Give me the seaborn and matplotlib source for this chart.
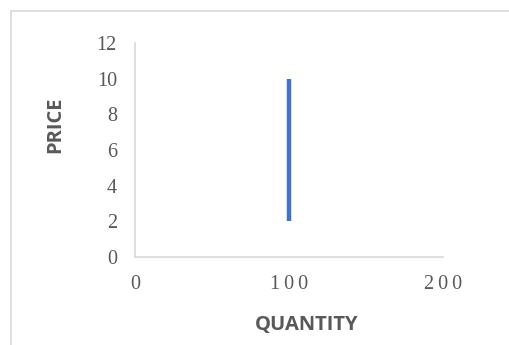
import seaborn as sns
import matplotlib.pyplot as plt
from matplotlib.patches import Rectangle

# supply curve: perfectly inelastic at quantity 100
quantity = [100, 100]
price = [2, 10]

x_ticks = [0, 100, 200]
y_ticks = [0, 2, 4, 6, 8, 10, 12]

sns.set_style("white")
plt.rcParams["font.family"] = ["Liberation Serif", "DejaVu Serif"]

fig = plt.figure(figsize=(5.09, 3.45), dpi=100)
ax = fig.add_axes([135 / 509, 1 - 257 / 345, 308 / 509, 214 / 345])

sns.lineplot(x=quantity, y=price, estimator=None, sort=False,
             color="#4472C4", linewidth=3.2, solid_capstyle="butt", ax=ax)

ax.set_xlim(0, 200)
ax.set_ylim(0, 12)
ax.set_xticks(x_ticks)
ax.set_yticks(y_ticks)
ax.set_xticklabels(["\u2009".join(str(t)) for t in x_ticks])
ax.tick_params(axis="both", length=0, labelsize=14.5, colors="#595959")
ax.tick_params(axis="x", pad=13)
ax.tick_params(axis="y", pad=13)

for side in ["top", "right"]:
    ax.spines[side].set_visible(False)
for side in ["left", "bottom"]:
    ax.spines[side].set_color("#D9D9D9")
    ax.spines[side].set_linewidth(1.2)

fig.text(307 / 509, 1 - 325 / 345, "QUANTITY", ha="center", va="center",
         fontsize=14.5, fontweight="bold", color="#595959", family="Open Sans")
fig.text(55 / 509, 1 - 125 / 345, "PRICE", ha="center", va="center", rotation=90,
         fontsize=14.5, fontweight="bold", color="#595959", family="Open Sans")

# chart area border
fig.patches.append(Rectangle((11 / 509, -0.1), 1.0, 1 - 11 / 345 + 0.1,
                             transform=fig.transFigure, fill=False,
                             edgecolor="#D9D9D9", linewidth=1.2))

plt.savefig("out.png", dpi=100)
